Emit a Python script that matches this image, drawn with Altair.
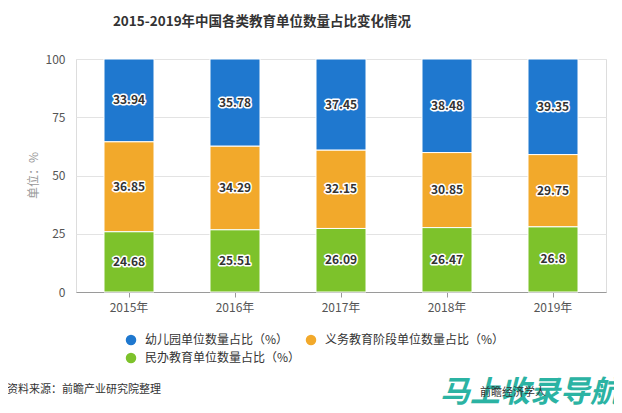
import altair as alt
import pandas as pd

years = ["2015年", "2016年", "2017年", "2018年", "2019年"]
series = ["幼儿园单位数量占比（%）", "义务教育阶段单位数量占比（%）", "民办教育单位数量占比（%）"]
kinder = [33.94, 35.78, 37.45, 38.48, 39.35]
compulsory = [36.85, 34.29, 32.15, 30.85, 29.75]
private = [24.68, 25.51, 26.09, 26.47, 26.8]
colors = ["#1f78cf", "#f2a92b", "#7dc22b"]
stack_rank = [2, 1, 0]  # kinder on top, private at bottom

title_text = "2015-2019年中国各类教育单位数量占比变化情况"
source_text = "资料来源：前瞻产业研究院整理"
wm_text = "马上收录导航"
wm2_text = "前瞻经济学人"

rows = []
for i, yr in enumerate(years):
    for s, vals, r in zip(series, [kinder, compulsory, private], stack_rank):
        rows.append({"year": yr, "series": s, "value": vals[i], "label": str(vals[i]), "rank": r})
df = pd.DataFrame(rows)

FONT = "Noto Sans CJK SC"

base = alt.Chart(df).transform_stack(
    stack="value", groupby=["year"], as_=["y0", "y1"], offset="normalize",
    sort=[alt.SortField("rank", order="ascending")]
).transform_calculate(mid="(datum.y0 + datum.y1) / 2")

x_scale = alt.Scale(type="band", paddingInner=0, paddingOuter=0)
x_enc = alt.X("year:N", sort=years, scale=x_scale,
              axis=alt.Axis(title=None, labelAngle=0, domainColor="#9a9a9a", tickColor="#9a9a9a",
                            tickSize=5, labelPadding=5, labelFontSize=12, labelColor="#555",
                            grid=False, labelFont=FONT))

bars = base.mark_bar(size=50, stroke="white", strokeWidth=1).encode(
    x=x_enc,
    y=alt.Y("y0:Q", scale=alt.Scale(domain=[0, 1]),
            axis=alt.Axis(values=[0, 0.25, 0.5, 0.75, 1], labelExpr="round(datum.value * 100)",
                          domain=False, ticks=False, gridColor="#e3e3e3", labelPadding=11,
                          labelFontSize=12, labelColor="#555", title="单位：%",
                          titleX=-43, titleY=116, titleAngle=270, titleBaseline="middle",
                          titleAlign="center", titleColor="#999", titleFontWeight="normal",
                          titleFontSize=12, titleFont=FONT)),
    y2="y1:Q",
    color=alt.Color("series:N", scale=alt.Scale(domain=series, range=colors),
                    legend=alt.Legend(title=None, orient="none", legendX=49, legendY=275,
                                      columns=2, direction="horizontal", symbolType="circle",
                                      symbolSize=110, symbolStrokeWidth=0, labelFontSize=12,
                                      labelColor="#333", labelFont=FONT, labelLimit=400,
                                      columnPadding=4, rowPadding=6, labelOffset=8)),
)

halo = base.mark_text(fontSize=12, fontWeight="bold", stroke="white", strokeWidth=3,
                      strokeJoin="round", font=FONT).encode(
    x=alt.X("year:N", sort=years, scale=x_scale), y="mid:Q", text="label:N")
labels = base.mark_text(fontSize=12, fontWeight="bold", color="#333", font=FONT).encode(
    x=alt.X("year:N", sort=years, scale=x_scale), y="mid:Q", text="label:N")

title = alt.Chart(pd.DataFrame({"t": [title_text]})).mark_text(
    fontSize=13.5, fontWeight="bold", color="#333", font=FONT, align="center", baseline="middle"
).encode(text="t:N", x=alt.value(186), y=alt.value(-37))

source = alt.Chart(pd.DataFrame({"t": [source_text]})).mark_text(
    fontSize=11, color="#333", font=FONT, align="left", baseline="middle"
).encode(text="t:N", x=alt.value(-69), y=alt.value(331))

wm = alt.Chart(pd.DataFrame({"t": [wm_text]})).mark_text(
    fontSize=30, fontWeight="bold", fontStyle="italic", color="#2bb3a3", font=FONT,
    align="left", baseline="middle"
).encode(text="t:N", x=alt.value(364), y=alt.value(334))

wm2 = alt.Chart(pd.DataFrame({"t": [wm2_text]})).mark_text(
    fontSize=11, color="#333", font=FONT, align="left", baseline="middle"
).encode(text="t:N", x=alt.value(404), y=alt.value(334))

chart = alt.layer(bars, halo, labels, title, source, wm, wm2).properties(
    width=530, height=233,
    autosize=alt.AutoSizeParams(type="none"),
    padding={"left": 68, "top": 51, "right": 8, "bottom": 113},
).configure_view(stroke=None).configure(font=FONT)

chart.save("out.html", embed_options={"renderer": "svg", "actions": False})
